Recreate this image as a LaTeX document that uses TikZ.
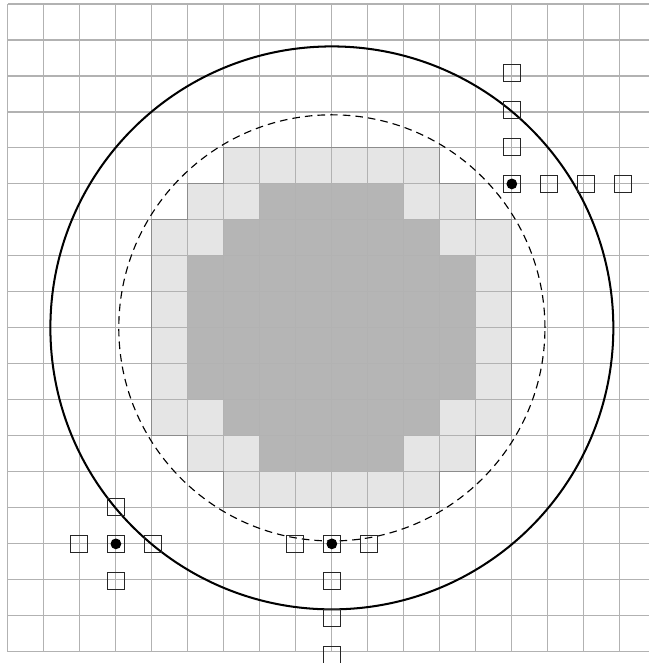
\documentclass[tikz,border=0pt]{standalone}
\usetikzlibrary{positioning}

\begin{document}
\begin{tikzpicture}[
  gridline/.style={draw=black!30, line width=0.9pt},
  outline/.style={draw=black!45, line width=0.9pt},
  probe/.style={rectangle, draw=black!85, line width=0.8pt,
                minimum size=4.8mm, inner sep=0pt},
  dot/.style={circle, fill=black, minimum size=3mm, inner sep=0pt},
  node distance=5.2mm,
]

\clip (-0.22,-0.31) rectangle (17.81,18.11);

% ---- shaded cells ----
\fill[black!10] (6,14) -| (12,13) -| (13,12) -| (14,6) -| (13,5) -| (12,4)
  -| (6,5) -| (5,6) -| (4,12) -| (5,13) -| cycle;
\fill[black!29] (7,13) -| (11,12) -| (12,11) -| (13,7) -| (12,6) -| (11,5)
  -| (7,6) -| (6,7) -| (5,11) -| (6,12) -| cycle;

\draw[gridline] (0,0) grid (18,18);

\draw[outline] (6,14) -| (12,13) -| (13,12) -| (14,6) -| (13,5) -| (12,4)
  -| (6,5) -| (5,6) -| (4,12) -| (5,13) -| cycle;

% ---- circles ----
\draw[line width=0.9pt, dash pattern=on 6pt off 4pt] (9,9) circle (5.92);
\draw[line width=1.6pt] (9,9) circle (7.82);

% ---- probes, top right ----
\node[probe] (tr) at (14,13) {};
\node[dot] (trdot) at (tr.center) {};
\node[probe, above=of tr] (tr1) {};
\node[probe, above=of tr1] (tr2) {};
\node[probe, above=of tr2] (tr3) {};
\node[probe, right=of tr] (tr4) {};
\node[probe, right=of tr4] (tr5) {};
\node[probe, right=of tr5] (tr6) {};

% ---- probes, bottom left ----
\node[probe] (bl) at (3,3) {};
\node[dot] (bldot) at (bl.center) {};
\node[probe, above=of bl] (bl1) {};
\node[probe, left=of bl] (bl2) {};
\node[probe, right=of bl] (bl3) {};
\node[probe, below=of bl] (bl4) {};

% ---- probes, bottom middle ----
\node[probe] (bm) at (9,3) {};
\node[dot] (bmdot) at (bm.center) {};
\node[probe, left=of bm] (bm1) {};
\node[probe, right=of bm] (bm2) {};
\node[probe, below=of bm] (bm3) {};
\node[probe, below=of bm3] (bm4) {};
\node[probe, below=of bm4] (bm5) {};

\end{tikzpicture}
\end{document}
